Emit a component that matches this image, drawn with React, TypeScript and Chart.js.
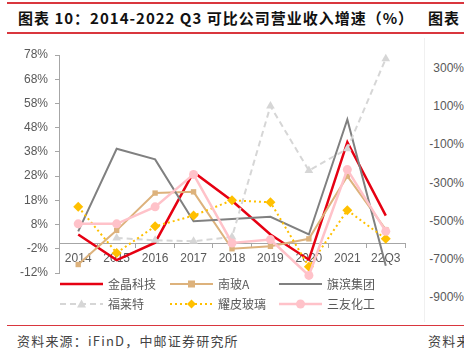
import React, { useEffect, useRef } from "react";
import { Chart, registerables } from "chart.js";

Chart.register(...registerables);

const categories = ["2014", "2015", "2016", "2017", "2018", "2019", "2020", "2021", "22Q3"];
const jinjing = [3.9, -6.7, 0.5, 29.6, 17.8, 3.9, -6.5, 42.0, 11.7];
const nanboA = [-8.5, 5.6, 21.0, 21.5, -2.0, -1.0, 2.1, 28.0, 5.9];
const qibin = [5.2, 39.3, 34.9, 9.4, 10.3, 11.2, 3.9, 51.4, -9.0];
const fulaite = [null, 2.5, 1.5, 1.1, 2.9, 56.9, 30.3, 39.3, 76.5];
const yaopi = [15.3, -3.7, 7.3, 11.7, 18.0, 17.2, -9.4, 13.9, 2.1];
const sanyou = [8.3, 8.3, 15.3, 28.7, 0.4, 1.8, -13.0, 30.7, 5.2];
const yTicks = [-12, -2, 8, 18, 28, 38, 48, 58, 68, 78];
const rightTicks = ["300%", "100%", "-100%", "-300%", "-500%", "-700%", "-900%"];

const seriesNames = ["金晶科技", "南玻A", "旗滨集团", "福莱特", "耀皮玻璃", "三友化工"];

const RED = "#E60012";
const TAN = "#DDB27C";
const GREY = "#808080";
const LGREY = "#D6D6D6";
const YELLOW = "#FFC000";
const PINK = "#FFC2C9";
const AXIS = "#A6A6A6";
const TEXT = "#595959";

function LegendSample({ kind }: { kind: number }) {
  const w = 43;
  const cy = 5;
  let line: any = null;
  let marker: any = null;
  if (kind === 0) line = <line x1={0} y1={cy} x2={w} y2={cy} stroke={RED} strokeWidth={2.5} />;
  if (kind === 1) {
    line = <line x1={0} y1={cy} x2={w} y2={cy} stroke={TAN} strokeWidth={2} />;
    marker = <rect x={w / 2 - 3.5} y={cy - 3.5} width={7} height={7} fill={TAN} />;
  }
  if (kind === 2) line = <line x1={0} y1={cy} x2={w} y2={cy} stroke={GREY} strokeWidth={2} />;
  if (kind === 3) {
    line = <line x1={0} y1={cy} x2={w} y2={cy} stroke={LGREY} strokeWidth={2} strokeDasharray="6 4" />;
    marker = <polygon points={`${w / 2},${cy - 4.5} ${w / 2 + 4.5},${cy + 3.5} ${w / 2 - 4.5},${cy + 3.5}`} fill={LGREY} />;
  }
  if (kind === 4) {
    line = <line x1={0} y1={cy} x2={w} y2={cy} stroke={YELLOW} strokeWidth={2} strokeDasharray="2 3" />;
    marker = <polygon points={`${w / 2},${cy - 4.5} ${w / 2 + 4.5},${cy} ${w / 2},${cy + 4.5} ${w / 2 - 4.5},${cy}`} fill={YELLOW} />;
  }
  if (kind === 5) {
    line = <line x1={0} y1={cy} x2={w} y2={cy} stroke={PINK} strokeWidth={2.5} />;
    marker = <circle cx={w / 2} cy={cy} r={4.5} fill={PINK} />;
  }
  return (
    <svg width={w} height={10} style={{ display: "block" }}>
      {line}
      {marker}
    </svg>
  );
}

export default function App() {
  const ref = useRef<HTMLCanvasElement | null>(null);

  useEffect(() => {
    if (!ref.current) return;
    const base = {
      fill: false,
      tension: 0,
      clip: false as any,
    };
    const chart = new Chart(ref.current, {
      type: "line",
      data: {
        labels: categories,
        datasets: [
          { ...base, label: seriesNames[0], data: jinjing, borderColor: RED, backgroundColor: RED, borderWidth: 2.5, pointRadius: 0, order: 6 },
          { ...base, label: seriesNames[1], data: nanboA, borderColor: TAN, backgroundColor: TAN, borderWidth: 2, pointStyle: "rect", pointRadius: 3.8, pointBorderWidth: 0, order: 5 },
          { ...base, label: seriesNames[2], data: qibin, borderColor: GREY, backgroundColor: GREY, borderWidth: 2, pointRadius: 0, order: 4 },
          { ...base, label: seriesNames[3], data: fulaite, borderColor: LGREY, backgroundColor: LGREY, borderWidth: 2, borderDash: [6, 4], pointStyle: "triangle", pointRadius: 5, pointBorderWidth: 0, order: 3 },
          { ...base, label: seriesNames[4], data: yaopi, borderColor: YELLOW, backgroundColor: YELLOW, borderWidth: 2, borderDash: [2, 3], pointStyle: "rectRot", pointRadius: 5, pointBorderWidth: 0, order: 2 },
          { ...base, label: seriesNames[5], data: sanyou, borderColor: PINK, backgroundColor: PINK, borderWidth: 2.5, pointStyle: "circle", pointRadius: 4.5, pointBorderWidth: 0, order: 1 },
        ] as any,
      },
      options: {
        animation: false,
        responsive: false,
        maintainAspectRatio: false,
        layout: { padding: { left: 0, top: 15, right: 15, bottom: 17 } },
        plugins: { legend: { display: false }, tooltip: { enabled: false } },
        scales: {
          x: {
            type: "category",
            offset: true,
            position: { y: 0 } as any,
            grid: { display: true, offset: true, drawOnChartArea: false, drawTicks: true, tickLength: 4, color: AXIS },
            border: { display: true, color: AXIS, width: 1 },
            ticks: { color: TEXT, font: { family: "Liberation Sans, Arial", size: 12 }, padding: 4, maxRotation: 0, autoSkip: false },
          },
          y: {
            type: "linear",
            min: -12,
            max: 78,
            afterBuildTicks: (scale: any) => {
              scale.ticks = yTicks.map((v) => ({ value: v }));
            },
            afterFit: (scale: any) => {
              scale.width = 59;
            },
            grid: { display: true, drawOnChartArea: false, drawTicks: true, tickLength: 4, color: AXIS },
            border: { display: true, color: AXIS, width: 1 },
            ticks: {
              color: TEXT,
              font: { family: "Liberation Sans, Arial", size: 12 },
              padding: 7,
              callback: (v: any) => `${v}%`,
            },
          },
        },
      } as any,
    });
    return () => chart.destroy();
  }, []);

  const legendCols = [60, 170, 279];
  const legendRows = [278, 298];

  return (
    <div
      style={{
        position: "absolute",
        left: 0,
        top: 0,
        width: 464,
        height: 352,
        overflow: "hidden",
        background: "#fff",
        fontFamily: "'Noto Sans CJK SC', 'Liberation Sans', sans-serif",
      }}
    >
      <div style={{ position: "absolute", left: 7, top: 2, width: 457, height: 1.5, background: "#D9363E" }} />
      <div
        style={{
          position: "absolute",
          left: 18,
          top: 7,
          fontSize: 15,
          fontWeight: 700,
          color: "#111",
          whiteSpace: "nowrap",
          lineHeight: "22px",
          letterSpacing: 1,
        }}
      >
        图表 10：2014-2022 Q3 可比公司营业收入增速（%）
      </div>
      <div
        style={{
          position: "absolute",
          left: 428,
          top: 7,
          fontSize: 15,
          fontWeight: 700,
          color: "#111",
          whiteSpace: "nowrap",
          lineHeight: "22px",
          letterSpacing: 1,
        }}
      >
        图表
      </div>
      <div style={{ position: "absolute", left: 7, top: 32, width: 457, height: 1.5, background: "#D9363E" }} />
      <div style={{ position: "absolute", left: 424, top: 38, width: 1, height: 284, background: "#F0F0F0" }} />

      <canvas ref={ref} width={420} height={250} style={{ position: "absolute", left: 0, top: 40, width: 420, height: 250 }} />

      {rightTicks.map((t, i) => (
        <div
          key={t}
          style={{
            position: "absolute",
            right: 0,
            top: 68 + i * 38.2 - 8,
            fontFamily: "'Liberation Sans', Arial, sans-serif",
            fontSize: 12,
            color: TEXT,
            lineHeight: "16px",
            textAlign: "right",
            whiteSpace: "nowrap",
          }}
        >
          {t}
        </div>
      ))}

      {seriesNames.map((name, i) => {
        const col = i % 3;
        const row = Math.floor(i / 3);
        return (
          <div
            key={name}
            style={{
              position: "absolute",
              left: legendCols[col],
              top: legendRows[row],
              display: "flex",
              alignItems: "center",
              height: 12,
              fontSize: 12,
              color: TEXT,
              whiteSpace: "nowrap",
            }}
          >
            <LegendSample kind={i} />
            <span style={{ marginLeft: 5, lineHeight: "12px" }}>{name}</span>
          </div>
        );
      })}

      <div style={{ position: "absolute", left: 7, top: 324.5, width: 457, height: 1.2, background: "#D9363E" }} />
      <div
        style={{
          position: "absolute",
          left: 17,
          top: 332,
          fontSize: 13,
          color: "#444",
          whiteSpace: "nowrap",
          lineHeight: "18px",
          letterSpacing: 1.2,
        }}
      >
        资料来源：iFinD，中邮证券研究所
      </div>
      <div
        style={{
          position: "absolute",
          left: 428,
          top: 332,
          fontSize: 13,
          color: "#444",
          whiteSpace: "nowrap",
          lineHeight: "18px",
          letterSpacing: 1.2,
        }}
      >
        资料来
      </div>
    </div>
  );
}
